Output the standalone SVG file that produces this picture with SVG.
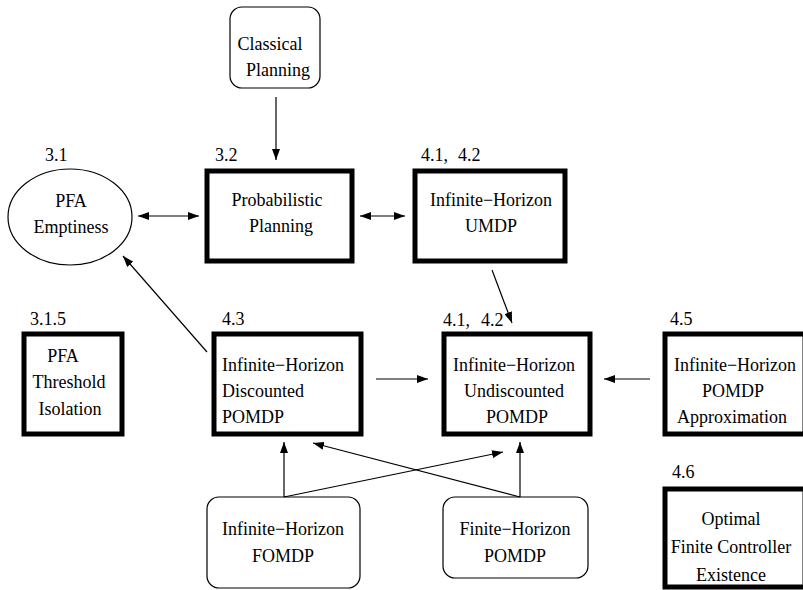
<svg xmlns="http://www.w3.org/2000/svg" width="803" height="590" viewBox="0 0 803 590">
<style>
text{font-family:"Liberation Serif","Times New Roman",serif;font-size:18px;fill:#000}
.c{text-anchor:middle}
.thick{fill:#fff;stroke:#000;stroke-width:5}
.thin{fill:#fff;stroke:#000;stroke-width:1.2}
.edge{fill:none;stroke:#000;stroke-width:1.2}
</style>
<defs>
<marker id="ah" markerUnits="userSpaceOnUse" markerWidth="12" markerHeight="8" refX="11" refY="4" orient="auto-start-reverse">
<path d="M0,0 L11,4 L0,8 z" fill="#000"/>
</marker>
</defs>
<rect width="803" height="590" fill="#fff"/>
<g id="classical">
<rect class="thin" x="230" y="7" width="90" height="81" rx="12"/>
<text class="c" x="270" y="50">Classical</text>
<text class="c" x="278" y="76">Planning</text>
</g>
<g id="pfa-emptiness">
<text x="45" y="161">3.1</text>
<ellipse class="thin" cx="70" cy="217" rx="62" ry="48"/>
<text class="c" x="71" y="207">PFA</text>
<text class="c" x="71" y="233">Emptiness</text>
</g>
<g id="prob-planning">
<text x="215" y="161">3.2</text>
<rect class="thick" x="207" y="171" width="145" height="90"/>
<text class="c" x="277" y="206">Probabilistic</text>
<text class="c" x="281" y="232">Planning</text>
</g>
<g id="umdp">
<text x="421" y="161">4.1,</text>
<text x="458" y="161">4.2</text>
<rect class="thick" x="415" y="171" width="150" height="90"/>
<text class="c" x="491" y="206">Infinite−Horizon</text>
<text class="c" x="491" y="232">UMDP</text>
</g>
<g id="pfa-threshold">
<text x="30" y="325">3.1.5</text>
<rect class="thick" x="24" y="334" width="98" height="100"/>
<text class="c" x="63" y="362">PFA</text>
<text class="c" x="69" y="388">Threshold</text>
<text class="c" x="70" y="415">Isolation</text>
</g>
<g id="discounted">
<text x="222" y="325">4.3</text>
<rect class="thick" x="214" y="334" width="147" height="100"/>
<text x="222" y="371">Infinite−Horizon</text>
<text x="222" y="397">Discounted</text>
<text x="222" y="423">POMDP</text>
</g>
<g id="undiscounted">
<text x="443" y="326">4.1,</text>
<text x="481" y="326">4.2</text>
<rect class="thick" x="444" y="334" width="146" height="100"/>
<text class="c" x="514" y="371">Infinite−Horizon</text>
<text class="c" x="514" y="397">Undiscounted</text>
<text class="c" x="517" y="423">POMDP</text>
</g>
<g id="approximation">
<text x="670" y="325">4.5</text>
<rect class="thick" x="665" y="334" width="140" height="100"/>
<text class="c" x="735" y="371">Infinite−Horizon</text>
<text class="c" x="733" y="397">POMDP</text>
<text class="c" x="732" y="423">Approximation</text>
</g>
<g id="finite-controller">
<text x="672" y="478">4.6</text>
<rect class="thick" x="665" y="489" width="140" height="98"/>
<text class="c" x="731" y="525">Optimal</text>
<text class="c" x="731" y="553">Finite Controller</text>
<text class="c" x="731" y="581">Existence</text>
</g>
<g id="fomdp">
<rect class="thin" x="207" y="497" width="153" height="91" rx="12"/>
<text class="c" x="283" y="535">Infinite−Horizon</text>
<text class="c" x="283" y="562">FOMDP</text>
</g>
<g id="finite-pomdp">
<rect class="thin" x="443" y="497" width="145" height="81" rx="12"/>
<text class="c" x="515" y="535">Finite−Horizon</text>
<text class="c" x="515" y="562">POMDP</text>
</g>
<g id="connectors">
<line class="edge" x1="276" y1="97" x2="276" y2="160" marker-end="url(#ah)"/>
<line class="edge" x1="138" y1="216" x2="199" y2="216" marker-start="url(#ah)" marker-end="url(#ah)"/>
<line class="edge" x1="360" y1="216" x2="405" y2="216" marker-start="url(#ah)" marker-end="url(#ah)"/>
<line class="edge" x1="492" y1="270" x2="512" y2="323" marker-end="url(#ah)"/>
<line class="edge" x1="207" y1="352" x2="123" y2="256" marker-end="url(#ah)"/>
<line class="edge" x1="376" y1="379" x2="428" y2="379" marker-end="url(#ah)"/>
<line class="edge" x1="650" y1="379" x2="604" y2="379" marker-end="url(#ah)"/>
<line class="edge" x1="284" y1="497" x2="284" y2="442" marker-end="url(#ah)"/>
<line class="edge" x1="284" y1="497" x2="503" y2="452" marker-end="url(#ah)"/>
<line class="edge" x1="520" y1="497" x2="520" y2="442" marker-end="url(#ah)"/>
<line class="edge" x1="520" y1="497" x2="313" y2="443" marker-end="url(#ah)"/>
</g>
</svg>
